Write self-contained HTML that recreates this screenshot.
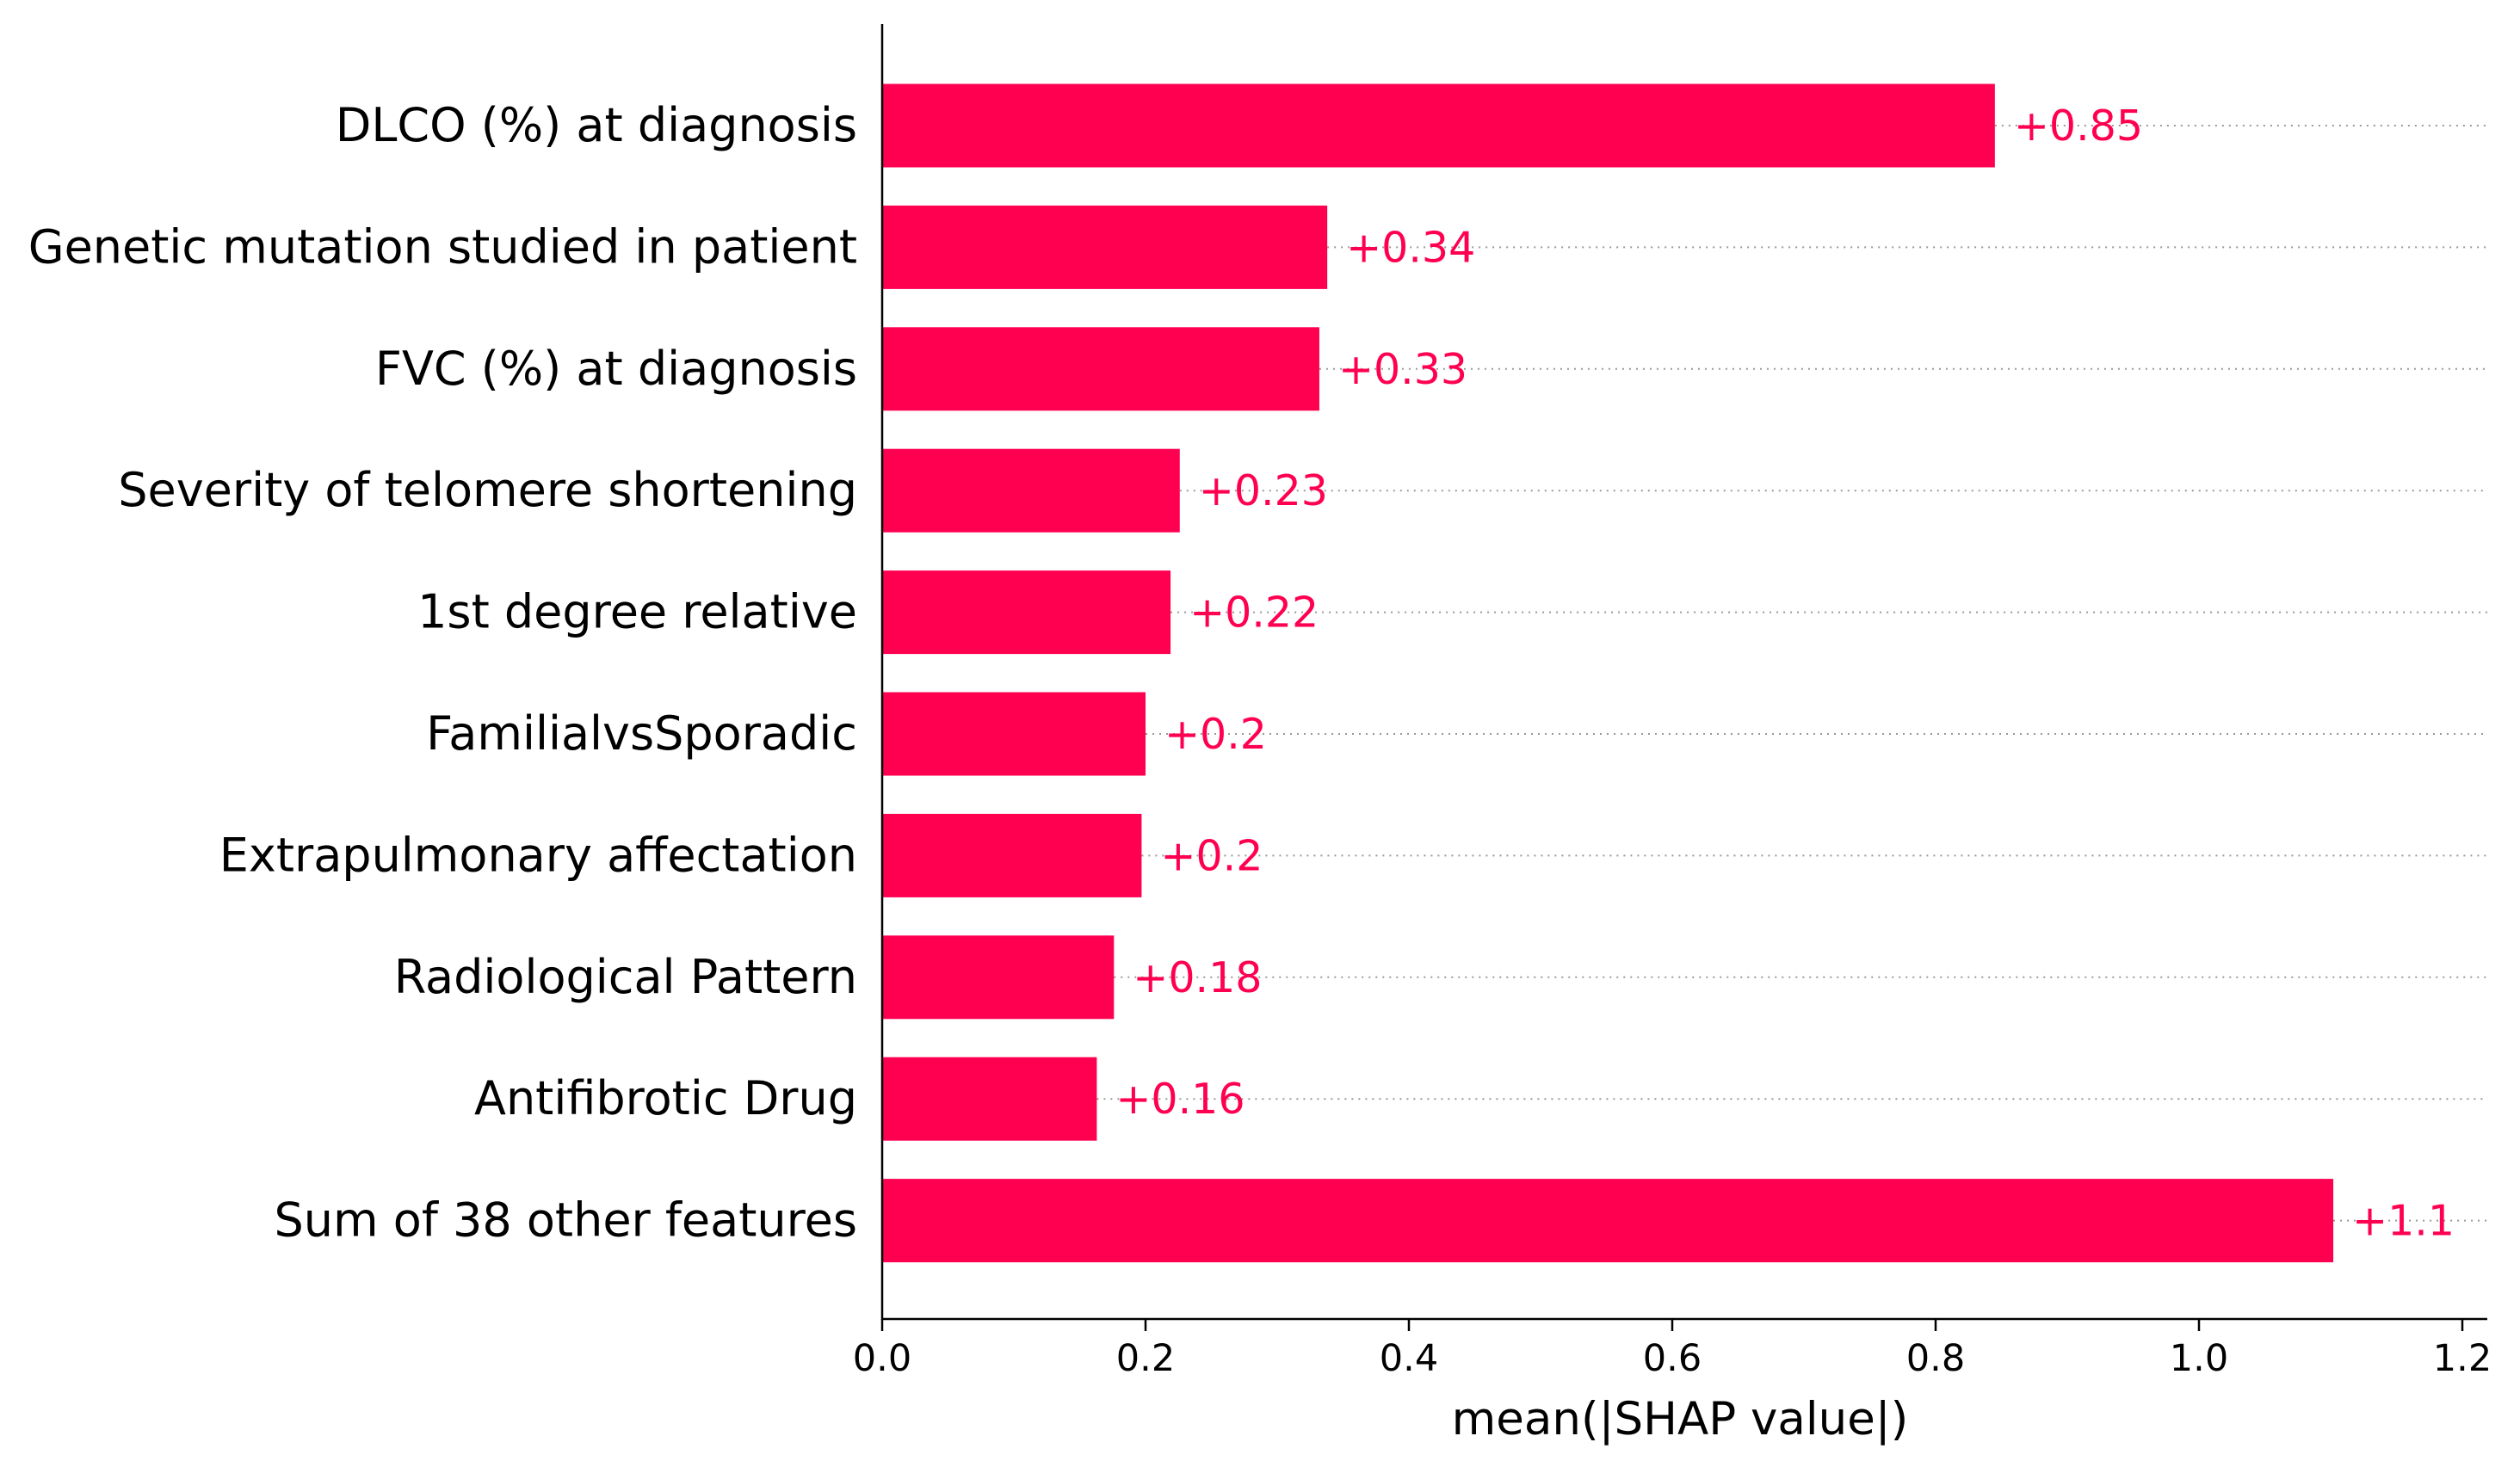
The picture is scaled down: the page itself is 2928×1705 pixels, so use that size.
<!DOCTYPE html>
<html><head><meta charset="utf-8"><style>
html,body{margin:0;padding:0;background:#fff;}
svg{display:block;font-family:"DejaVu Sans","Liberation Sans",sans-serif;}
</style></head><body>
<svg id="chart" width="2928" height="1705" viewBox="0 0 2928 1705" xmlns="http://www.w3.org/2000/svg"></svg>
<script>
const categories = ["DLCO (%) at diagnosis","Genetic mutation studied in patient","FVC (%) at diagnosis","Severity of telomere shortening","1st degree relative","FamilialvsSporadic","Extrapulmonary affectation","Radiological Pattern","Antifibrotic Drug","Sum of 38 other features"];
const values = [0.845,0.338,0.332,0.226,0.219,0.200,0.197,0.176,0.163,1.102];
const valueLabels = ["+0.85","+0.34","+0.33","+0.23","+0.22","+0.2","+0.2","+0.18","+0.16","+1.1"];
const xTicks = [0,0.2,0.4,0.6,0.8,1.0,1.2];
const xTickLabels = ["0.0","0.2","0.4","0.6","0.8","1.0","1.2"];

const NS="http://www.w3.org/2000/svg";
const svg=document.getElementById('chart');
const X0=1025, UNIT=1530, AX_R=2890, AX_TOP=28, AX_BOT=1533, Y0=146, STEP=141.4, BH=97;
const xs=v=>X0+v*UNIT;
const ys=i=>Y0+i*STEP;
function mk(tag,attrs,parent){const e=document.createElementNS(NS,tag);for(const k in attrs)e.setAttribute(k,attrs[k]);(parent||svg).appendChild(e);return e;}

categories.forEach((c,i)=>{
  const y=ys(i), xe=xs(values[i]);
  const g=mk('line',{x1:xe,x2:AX_R,y1:y,y2:y,stroke:'#999','stroke-width':2,'stroke-dasharray':'2,6'});
  
  
  const r=mk('rect',{x:X0,y:y-BH/2,width:xe-X0,height:BH,fill:'#ff0051'});
  
  
  const t=mk('text',{x:996,y:y+18,'text-anchor':'end','font-size':54,fill:'#000'});
  t.textContent=c;
  
  
  const v=mk('text',{x:xe+22,y:y+17,'font-size':49,fill:'#ff0051'});
  v.textContent=valueLabels[i];
  
  
});
const ls=mk('line',{x1:X0,x2:X0,y1:AX_TOP,y2:AX_BOT+1,stroke:'#000','stroke-width':2.5});


const bs=mk('line',{x1:X0,x2:AX_R,y1:AX_BOT,y2:AX_BOT,stroke:'#000','stroke-width':2.5});


xTicks.forEach((tv,i)=>{
  const x=xs(tv);
  const tk=mk('line',{x1:x,x2:x,y1:AX_BOT,y2:AX_BOT+14,stroke:'#000','stroke-width':2.5});
  
  
  const tl=mk('text',{x:x,y:AX_BOT+60,'text-anchor':'middle','font-size':43,fill:'#000'});
  tl.textContent=xTickLabels[i];
  
  
});
const xl=mk('text',{x:1952,y:1667,'text-anchor':'middle','font-size':53,fill:'#000'});
xl.textContent='mean(|SHAP value|)';


</script>
</body></html>
